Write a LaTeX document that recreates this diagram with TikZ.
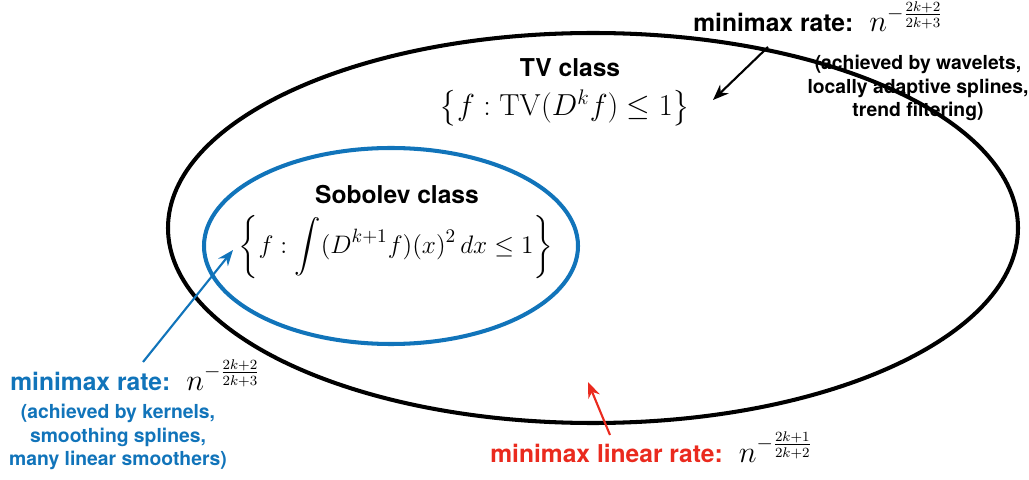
\documentclass[tikz,border=0pt]{standalone}
\usepackage{amsmath,amssymb}
\usepackage[no-math]{fontspec}
\setmainfont{TeX Gyre Heros}
\usepackage{xcolor}
\usepackage{tikz}
\usetikzlibrary{arrows.meta,positioning}

\definecolor{sobblue}{RGB}{17,116,186}
\definecolor{linred}{RGB}{234,42,30}

\begin{document}
\begin{tikzpicture}[
    rate/.style={font=\fontsize{14}{16}\selectfont\bfseries, anchor=base west, inner sep=0pt},
    note/.style={font=\fontsize{11}{13.2}\selectfont\bfseries, align=center, inner sep=0pt},
    cls/.style={font=\fontsize{14}{16}\selectfont\bfseries, inner sep=0pt},
    set/.style={font=\fontsize{17}{20}\selectfont, inner sep=0pt},
    ptr/.style={-{Stealth[length=9pt,width=7pt]}, line width=1.2pt}
]
\useasboundingbox (0,0) rectangle (20.58,9.58);

% Classes
\draw[line width=2.3pt] (11.86,5.02) ellipse [x radius=8.5, y radius=3.9];
\draw[sobblue, line width=2.3pt] (7.82,4.66) ellipse [x radius=3.74, y radius=1.96];

\node[cls] (tvname) at (11.4,8.22) {TV class};
\node[set] (tvset) at (11.3,7.42) {$\big\{f : \mathrm{TV}(D^k f) \le 1\big\}$};

\node[cls] (sobname) at (7.94,5.68) {Sobolev class};
\node[set, font=\fontsize{15}{18}\selectfont] (sobset) at (7.92,4.64)
    {$\displaystyle\left\{f : \int (D^{k+1}f)(x)^2 \, dx \le 1\right\}$};

% Rates
\node[rate] (tvrate) at (13.86,8.94)
    {minimax rate:~ {\fontsize{17}{20}\selectfont$n^{-\frac{2k+2}{2k+3}}$}};
\node[note] (tvnote) at (18.36,7.82)
    {(achieved by wavelets,\\locally adaptive splines,\\trend filtering)};

\node[rate, sobblue] (sobrate) at (0.2,1.78)
    {minimax rate:~ {\color{black}\fontsize{17}{20}\selectfont$n^{-\frac{2k+2}{2k+3}}$}};
\node[note, sobblue] (sobnote) at (2.36,0.84)
    {(achieved by kernels,\\smoothing splines,\\many linear smoothers)};

\node[rate, linred] (linrate) at (9.8,0.34)
    {minimax linear rate:~ {\color{black}\fontsize{17}{20}\selectfont$n^{-\frac{2k+1}{2k+2}}$}};

% Pointers
\coordinate (tvfrom) at (15.36,8.64);
\coordinate (tvto) at (14.26,7.58);
\coordinate (sobfrom) at (2.86,2.34);
\coordinate (sobto) at (4.66,4.58);
\coordinate (linfrom) at (12.2,0.88);
\coordinate (linto) at (11.76,1.94);

\draw[ptr] (tvfrom) -- (tvto);
\draw[ptr, sobblue] (sobfrom) -- (sobto);
\draw[ptr, linred] (linfrom) -- (linto);
\end{tikzpicture}
\end{document}
